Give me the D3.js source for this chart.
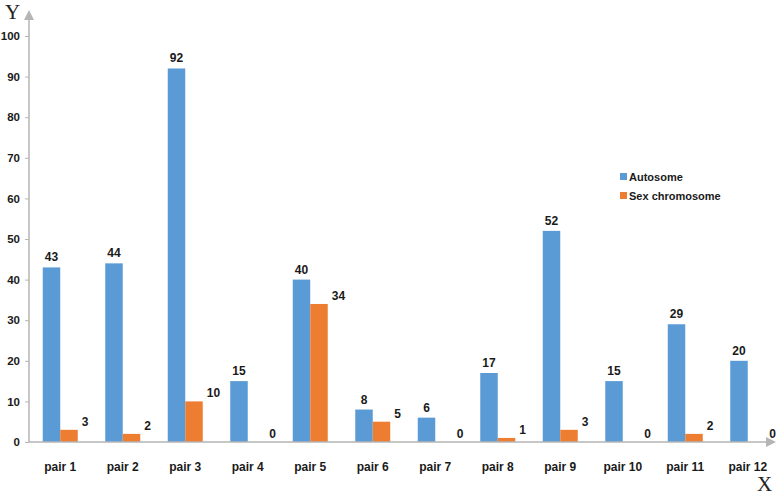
<!DOCTYPE html>
<html><head><meta charset="utf-8">
<script src="https://cdn.jsdelivr.net/npm/d3@7"></script>
<style>body{margin:0;background:#fff}svg{display:block}</style>
</head><body><svg id="c" width="781" height="497"></svg>
<script>
const categories = ["pair 1","pair 2","pair 3","pair 4","pair 5","pair 6","pair 7","pair 8","pair 9","pair 10","pair 11","pair 12"];
const autosome = [43,44,92,15,40,8,6,17,52,15,29,20];
const sexChromosome = [3,2,10,0,34,5,0,1,3,0,2,0];
const seriesNames = ["Autosome","Sex chromosome"];
const yTicks = [0,10,20,30,40,50,60,70,80,90,100];

const colors = ["#5b9bd5","#ed7d31"];
const svg = d3.select("#c");
const x = d3.scaleBand().domain(categories).range([29,779]).paddingInner(0.44).paddingOuter(0.22);
const xs = d3.scaleBand().domain([0,1]).range([0,x.bandwidth()]);
const y = d3.scaleLinear().domain([0,100]).range([442,36]);
const font = "'Liberation Sans', Arial, sans-serif";

const defs = svg.append("defs");
defs.append("marker").attr("id","arr").attr("viewBox","0 0 10 10").attr("refX",0).attr("refY",5)
  .attr("markerWidth",10).attr("markerHeight",10).attr("markerUnits","userSpaceOnUse").attr("orient","auto")
  .append("path").attr("d","M0,0L10,5L0,10Z").attr("fill","#b5b5b5");

// y axis
const yAxis = d3.axisLeft(y).tickValues(yTicks).tickSize(4).tickPadding(5);
const gy = svg.append("g").attr("transform","translate(29,0)").call(yAxis);
gy.select(".domain").remove();
gy.selectAll(".tick line").attr("stroke","#b5b5b5");
gy.selectAll(".tick text").attr("font-family",font).attr("font-weight","bold").attr("font-size",11.5).attr("fill","#1a1a1a");
svg.append("line").attr("x1",29).attr("x2",29).attr("y1",y(0)).attr("y2",20)
  .attr("stroke","#b5b5b5").attr("stroke-width",1.5).attr("marker-end","url(#arr)");

// bars
const groups = svg.append("g").selectAll("g").data(categories).join("g")
  .attr("transform",d=>`translate(${x(d)},0)`);
const vals = [autosome, sexChromosome];
vals.forEach((arr,si)=>{
  groups.append("rect").attr("x",xs(si)).attr("width",xs.bandwidth())
    .attr("y",(d,i)=>y(arr[i])).attr("height",(d,i)=>y(0)-y(arr[i])).attr("fill",colors[si]);
});
groups.append("text").attr("x",xs(0)+xs.bandwidth()/2).attr("y",(d,i)=>y(autosome[i])-6)
  .attr("text-anchor","middle").text((d,i)=>autosome[i]);
groups.append("text").attr("x",xs(1)+xs.bandwidth()+4).attr("y",(d,i)=>y(sexChromosome[i])-4)
  .attr("text-anchor","start").text((d,i)=>sexChromosome[i]);
groups.selectAll("text").attr("font-family",font).attr("font-weight","bold").attr("font-size",12).attr("fill","#1a1a1a");

// x axis
svg.append("line").attr("x1",29).attr("x2",766).attr("y1",y(0)).attr("y2",y(0))
  .attr("stroke","#b5b5b5").attr("stroke-width",1.5).attr("marker-end","url(#arr)");
const xAxis = d3.axisBottom(x).tickSize(0).tickPadding(20);
const gx = svg.append("g").attr("transform",`translate(0,${y(0)})`).call(xAxis);
gx.select(".domain").remove();
gx.selectAll(".tick text").attr("font-family",font).attr("font-weight","bold").attr("font-size",12).attr("fill","#1a1a1a");

// axis letters
svg.append("text").attr("x",5).attr("y",19).text("Y").attr("font-family","'Liberation Serif','DejaVu Serif',serif").attr("font-size",21).attr("fill","#222");
svg.append("text").attr("x",757).attr("y",491).text("X").attr("font-family","'Liberation Serif','DejaVu Serif',serif").attr("font-size",21).attr("fill","#222");

// legend
const lg = svg.append("g").attr("transform","translate(620,177)");
seriesNames.forEach((n,i)=>{
  lg.append("rect").attr("x",0).attr("y",i*19-4).attr("width",7).attr("height",7).attr("fill",colors[i]);
  lg.append("text").attr("x",9).attr("y",i*19+4).text(n).attr("font-family",font).attr("font-weight","bold").attr("font-size",11).attr("fill","#1a1a1a");
});
</script></body></html>
